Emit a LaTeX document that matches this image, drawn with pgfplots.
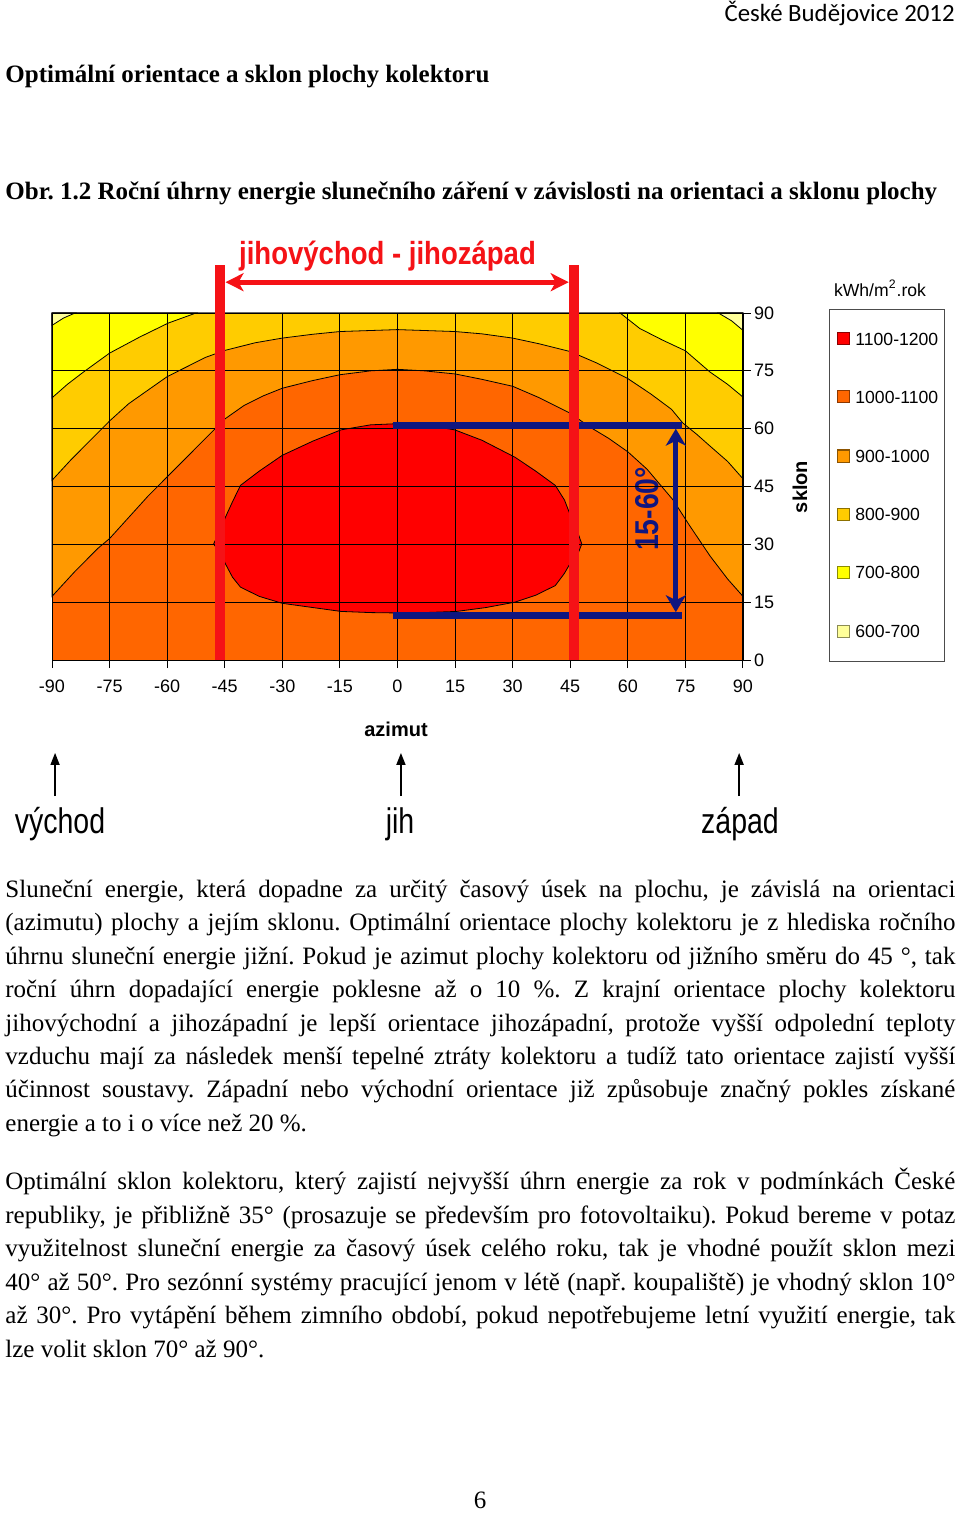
\documentclass[border=0pt]{standalone}
\usepackage{fontspec}
\setmainfont{Liberation Serif}
\newfontfamily\calibri{Carlito}
\newfontfamily\arial{Liberation Sans}
\newfontfamily\arialn[FakeStretch=0.8]{Liberation Sans}
\newfontfamily\arialm[FakeStretch=0.86]{Liberation Sans}
\usepackage{pgfplots}
\pgfplotsset{compat=1.18}
\usetikzlibrary{arrows.meta}
\frenchspacing

\definecolor{c600}{HTML}{FFFF99}
\definecolor{c700}{HTML}{FFFF00}
\definecolor{c800}{HTML}{FFCC00}
\definecolor{c900}{HTML}{FF9900}
\definecolor{c1000}{HTML}{FF6600}
\definecolor{c1100}{HTML}{FF0000}
\definecolor{redline}{RGB}{245,18,22}
\definecolor{navy}{RGB}{16,22,128}

\newcommand\bodyfont{\fontsize{12.5}{15}\selectfont}
% one justified line of the page text, baseline in pixels
\newcommand\jl[2]{\node[anchor=base west] at (5,#1) {\bodyfont\makebox[475pt][s]{#2}};}
\newcommand\nl[2]{\node[anchor=base west] at (5,#1) {\bodyfont #2};}

\begin{document}
\begin{tikzpicture}
\fill[white] (0,0) rectangle (480pt,-756.5pt);

\begin{scope}[x=0.5pt,y=-0.5pt,every node/.style={inner sep=0pt}]
\node[anchor=base east] at (955,22) {\calibri\fontsize{12.4}{14}\selectfont České Budějovice 2012};
\node[anchor=base west] at (5,83) {\bodyfont\bfseries Optimální orientace a sklon plochy kolektoru};
\node[anchor=base west] at (5,200) {\bodyfont\bfseries Obr. 1.2 Roční úhrny energie slunečního záření v závislosti na orientaci a sklonu plochy};

\jl{897}{Sluneční energie, která dopadne za určitý časový úsek na plochu, je závislá na orientaci}
\jl{930}{(azimutu) plochy a jejím sklonu. Optimální orientace plochy kolektoru je z hlediska ročního}
\jl{964}{úhrnu sluneční energie jižní. Pokud je azimut plochy kolektoru od jižního směru do 45 °, tak}
\jl{997}{roční úhrn dopadající energie poklesne až o 10 \%. Z krajní orientace plochy kolektoru}
\jl{1031}{jihovýchodní a jihozápadní je lepší orientace jihozápadní, protože vyšší odpolední teploty}
\jl{1064}{vzduchu mají za následek menší tepelné ztráty kolektoru a tudíž tato orientace zajistí vyšší}
\jl{1097}{účinnost soustavy. Západní nebo východní orientace již způsobuje značný pokles získané}
\nl{1131}{energie a to i o více než 20 \%.}

\jl{1189}{Optimální sklon kolektoru, který zajistí nejvyšší úhrn energie za rok v podmínkách České}
\jl{1223}{republiky, je přibližně 35° (prosazuje se především pro fotovoltaiku). Pokud bereme v potaz}
\jl{1256}{využitelnost sluneční energie za časový úsek celého roku, tak je vhodné použít sklon mezi}
\jl{1290}{40° až 50°. Pro sezónní systémy pracující jenom v létě (např. koupaliště) je vhodný sklon 10°}
\jl{1323}{až 30°. Pro vytápění během zimního období, pokud nepotřebujeme letní využití energie, tak}
\nl{1357}{lze volit sklon 70° až 90°.}

\node[anchor=base] at (480,1508) {\bodyfont 6};
\end{scope}

\begin{axis}[
  at={(26pt,-330pt)}, anchor=south west,
  scale only axis, width=345.5pt, height=173.5pt,
  xmin=-90, xmax=90, ymin=0, ymax=90,
  xtick={-90,-75,...,90},
  xticklabels={-90,-75,-60,-45,-30,-15,0,15,30,45,60,75,90},
  ytick={0,15,...,90},
  xtick pos=bottom, ytick pos=right, yticklabel pos=right,
  tick align=outside, major tick length=4pt,
  tick style={black, line width=0.5pt},
  grid=major, grid style={black, line width=0.45pt},
  axis line style={black, line width=0.5pt},
  ticklabel style={font=\arial\fontsize{9}{10}\selectfont},
  xticklabel style={yshift=-2.5pt},
  yticklabel style={xshift=-2pt},
  /pgf/number format/assume math mode=true,
  set layers=axis on top, axis on top, clip=false,
]
% bands of the annual sum, kWh/m2 per year
\addplot[fill=c1000, draw=none] coordinates {(-90,0) (90,0) (90,90) (-90,90)} -- cycle;
\addplot[fill=c900, draw=black, line width=0.4pt] coordinates {
  (-90,16.5) (-84,23) (-78,29) (-75,31.5) (-70,37) (-65,42.5) (-60,47.5) (-55,52.5)
  (-50,57.5) (-45,62.5) (-40,66) (-35,68.5) (-30,70.5) (-22,72.5) (-15,74) (-7,75)
  (0,75.4) (7,75) (15,74.2) (22,72.8) (30,71) (37,68) (45,64) (50,60.5) (55,57.5)
  (60,54) (65,49.5) (71.8,41.5) (76,35) (81.4,27) (86,21) (90,16.5) (90,90) (-90,90)} -- cycle;
\addplot[fill=c800, draw=black, line width=0.4pt] coordinates {
  (-90,46.6) (-85,52) (-80,57) (-75,62) (-70,66.5) (-65,70) (-60,73.5) (-55,76)
  (-50,78.5) (-45,80.3) (-37,82.3) (-30,83.5) (-22,84.5) (-15,85.2) (0,85.7) (15,85.2)
  (22,84.6) (30,83.5) (37,82) (45,80) (52,77) (60,73) (66,69) (71.4,65) (74.3,61.5)
  (78,58.5) (81.4,55.5) (86,51.5) (90,47) (90,90) (-90,90)} -- cycle;
\addplot[fill=c700, draw=black, line width=0.4pt] coordinates {
  (-90,68) (-86,71.5) (-81.8,74.7) (-75,79.6) (-67.1,83.8) (-59.7,87.4) (-52.5,90) (-90,90)} -- cycle;
\addplot[fill=c700, draw=black, line width=0.4pt] coordinates {
  (58,90) (63.1,86) (69,83) (75,80.2) (81.4,74.7) (86,71.5) (90,68.2) (90,90)} -- cycle;
\addplot[fill=c600, draw=black, line width=0.4pt] coordinates {(-90,86.8) (-87,88.7) (-84,90) (-90,90)} -- cycle;
\addplot[fill=c600, draw=black, line width=0.4pt] coordinates {(83.6,90) (87,88) (90,85.5) (90,90)} -- cycle;
\addplot[fill=c1100, draw=black, line width=0.4pt] coordinates {
  (0,61.3) (7,61) (14.9,59.7) (22,57) (30.6,52.6) (36,49) (41.1,45.3) (43.5,41.5)
  (45.4,36.6) (47,33) (48,30.1) (47,27.5) (45.4,25.8) (43.5,22.5) (41.1,19.3) (36,16.8)
  (30.6,15) (23,13.6) (15.4,12.6) (7,12.3) (0,12.2) (-7,12.3) (-14.7,12.6) (-22,13.6)
  (-30,14.7) (-36,16.5) (-40.9,18.9) (-43,21.5) (-44.8,24.9) (-46,27.5) (-47.9,30.1)
  (-46.5,33) (-44.8,37.1) (-43,41) (-40.9,45.3) (-36,49) (-30,53.1) (-22,56.8)
  (-14.7,59.7) (-7,61)} -- cycle;

% tilt range 15-60
\addplot[on layer=axis foreground, navy, line width=3.5pt] coordinates {(-1.2,60.9) (74,60.9)};
\addplot[on layer=axis foreground, navy, line width=3.5pt] coordinates {(-1.2,11.5) (74,11.5)};
\addplot[on layer=axis foreground, navy, line width=2.4pt,
  {Stealth[length=8.5pt,width=10pt,inset=2.5pt]}-{Stealth[length=8.5pt,width=10pt,inset=2.5pt]}]
  coordinates {(72.5,60) (72.5,12.4)};
% south-east to south-west
\addplot[on layer=axis foreground, redline, line width=5pt] coordinates {(-46.2,0) (-46.2,102.4)};
\addplot[on layer=axis foreground, redline, line width=5pt] coordinates {(46,0) (46,102.4)};
\addplot[on layer=axis foreground, redline, line width=2.5pt,
  {Stealth[length=9pt,width=9pt,inset=2.5pt]}-{Stealth[length=9pt,width=9pt,inset=2.5pt]}]
  coordinates {(-44.8,98) (44.6,98)};
% compass directions under the azimuth axis
\addplot[black, line width=0.8pt, -{Triangle[length=6pt,width=4.5pt]}] coordinates {(-89.2,-35.3) (-89.2,-24.1)};
\addplot[black, line width=0.8pt, -{Triangle[length=6pt,width=4.5pt]}] coordinates {(0.9,-35.3) (0.9,-24.1)};
\addplot[black, line width=0.8pt, -{Triangle[length=6pt,width=4.5pt]}] coordinates {(89,-35.3) (89,-24.1)};
\end{axis}

\begin{scope}[x=0.5pt,y=-0.5pt,every node/.style={inner sep=0pt}]
\node[text=redline] at (387.5,256) {\arialm\fontsize{16}{18}\selectfont\bfseries jihovýchod - jihozápad};
\node[text=navy, rotate=90] at (647,509) {\arialm\fontsize{16.5}{18}\selectfont\bfseries 15-60°};
\node[rotate=90] at (800,487) {\arial\fontsize{10}{12}\selectfont\bfseries sklon};
\node at (396,729) {\arial\fontsize{10}{12}\selectfont\bfseries azimut};
\node[anchor=base] at (60,833) {\arialn\fontsize{17.8}{20}\selectfont východ};
\node[anchor=base] at (400,833) {\arialn\fontsize{17.8}{20}\selectfont jih};
\node[anchor=base] at (740,833) {\arialn\fontsize{17.8}{20}\selectfont západ};
% legend
\node at (880,288) {\arial\fontsize{8.8}{10}\selectfont kWh/m\textsuperscript{2}.rok};
\draw[black!70, line width=0.5pt] (829,310) rectangle (944,661);
\foreach \y/\c/\t in {339/c1100/1100-1200, 397/c1000/1000-1100, 456/c900/900-1000,
                     514/c800/800-900, 572/c700/700-800, 631/c600/600-700} {
  \filldraw[fill=\c, draw=\c!55!black, line width=0.5pt] (837.5,\y-6) rectangle (849.5,\y+6);
  \node[anchor=west] at (855,\y) {\arial\fontsize{8.8}{10}\selectfont \t};
}
\end{scope}
\pgfresetboundingbox
\path[use as bounding box] (0,0) rectangle (480pt,-756.5pt);
\end{tikzpicture}
\end{document}
